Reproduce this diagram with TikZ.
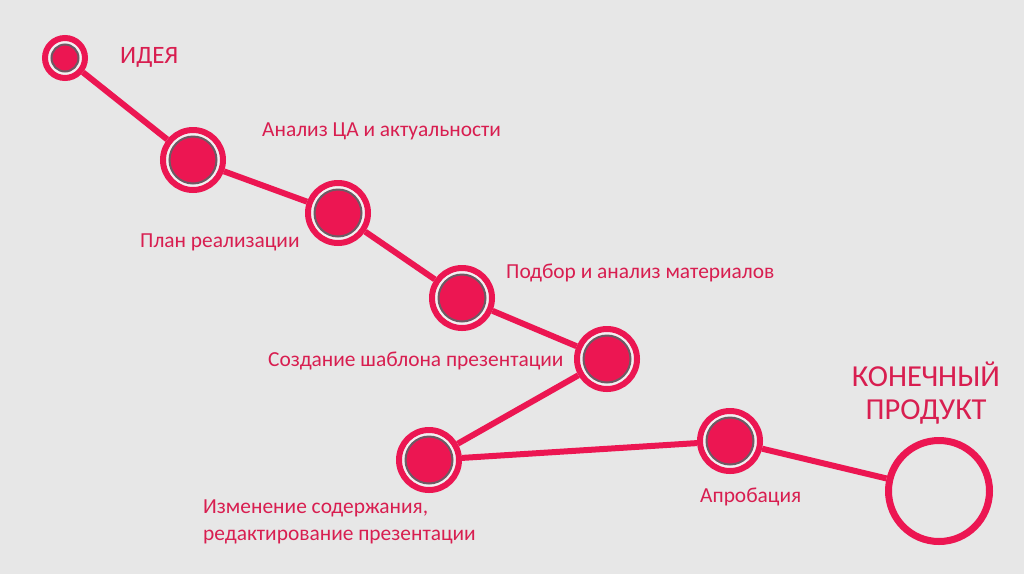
\documentclass[tikz,border=0pt]{standalone}
\usepackage{fontspec}
\setmainfont{Carlito}
\usepackage{tikz}
\usepackage{xcolor}

\definecolor{ringred}{HTML}{EC1652}
\definecolor{textred}{HTML}{D81E50}
\definecolor{paper}{HTML}{E7E7E7}
\definecolor{gap}{HTML}{F2F0F1}
\definecolor{rim}{HTML}{6E5A64}

\begin{document}
\begin{tikzpicture}[x = 1pt, y = -1pt,
  stage/.style = {circle, draw = ringred, line width = 6pt, fill = gap, inner sep = 0pt, minimum size = 60pt,
    path picture = {\fill [ringred, draw = rim, line width = 2pt] (path picture bounding box.center) circle (23.5pt);}},
  start/.style = {stage, minimum size = 40pt,
    path picture = {\fill [ringred, draw = rim, line width = 2pt] (path picture bounding box.center) circle (13.5pt);}},
  goal/.style = {circle, draw = ringred, line width = 7pt, inner sep = 0pt, minimum size = 101pt},
  link/.style = {ringred, line width = 6pt},
  caption/.style = {textred, anchor = west, inner sep = 0pt, font = \fontsize{21.4}{27}\selectfont, align = left}]
  \fill [paper] (0, 0) rectangle (1024, 574);
  \useasboundingbox (0, 0) rectangle (1024, 574);

  \node (idea) [start] at (65, 58) {};
  \node (audience) [stage] at (193, 160) {};
  \node (plan) [stage] at (338, 213) {};
  \node (materials) [stage] at (462, 298) {};
  \node (template) [stage] at (607, 359) {};
  \node (editing) [stage] at (429, 460) {};
  \node (testing) [stage] at (730, 441) {};
  \node (product) [goal] at (939, 491) {};

  \draw [link] (idea) -- (audience);
  \draw [link] (audience) -- (plan);
  \draw [link] (plan) -- (materials);
  \draw [link] (materials) -- (template);
  \draw [link] (template) -- (editing);
  \draw [link] (editing) -- (testing);
  \draw [link] (testing) -- (product);

  \node (ideatext) [caption, font = \fontsize{25}{30}\selectfont] at (120, 57) {ИДЕЯ};
  \node (audiencetext) [caption] at (262, 131) {Анализ ЦА и актуальности};
  \node (plantext) [caption] at (140, 242) {План реализации};
  \node (materialstext) [caption] at (506, 273) {Подбор и анализ материалов};
  \node (templatetext) [caption] at (268, 361) {Создание шаблона презентации};
  \node (editingtext) [caption] at (203, 522) {Изменение содержания,\\редактирование презентации};
  \node (testingtext) [caption] at (700, 497) {Апробация};
  \node (producttext) [caption, anchor = center, align = center, font = \fontsize{30.5}{33}\selectfont] at (926, 393) {КОНЕЧНЫЙ\\ПРОДУКТ};
\end{tikzpicture}
\end{document}
